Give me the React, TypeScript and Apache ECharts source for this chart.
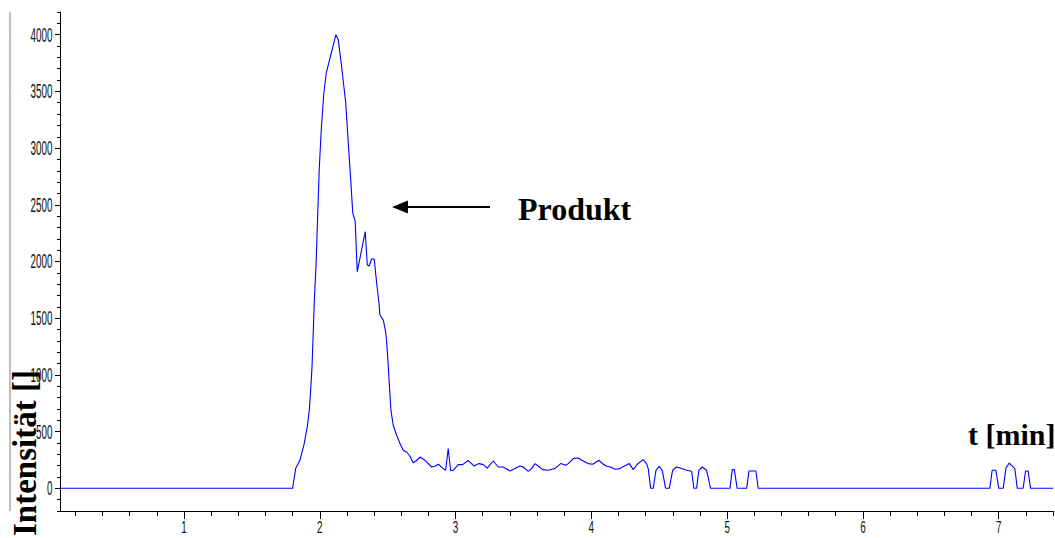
import React, { useEffect, useRef } from "react";
import * as echarts from "echarts";

// Retention time [min]
const timeMin = [
  0, 1.8, 1.823, 1.854, 1.886, 1.908, 1.923, 1.933, 1.943, 1.952,
  1.96, 1.972, 1.996, 2.011, 2.029, 2.048, 2.119, 2.136, 2.161, 2.191,
  2.21, 2.228, 2.243, 2.261, 2.276, 2.335, 2.35, 2.364, 2.382, 2.401,
  2.419, 2.436, 2.443, 2.468, 2.487, 2.497, 2.512, 2.524, 2.541, 2.566,
  2.591, 2.615, 2.642, 2.664, 2.688, 2.711, 2.738, 2.775, 2.824, 2.848,
  2.873, 2.909, 2.927, 2.946, 2.964, 2.983, 3.02, 3.052, 3.093, 3.135,
  3.174, 3.204, 3.233, 3.278, 3.314, 3.351, 3.401, 3.437, 3.474, 3.499,
  3.535, 3.56, 3.585, 3.609, 3.641, 3.683, 3.732, 3.774, 3.813, 3.83,
  3.867, 3.904, 3.94, 3.977, 4.01, 4.056, 4.088, 4.113, 4.142, 4.174,
  4.211, 4.24, 4.279, 4.309, 4.338, 4.382, 4.407, 4.419, 4.437, 4.456,
  4.476, 4.5, 4.522, 4.547, 4.574, 4.599, 4.628, 4.665, 4.702, 4.739,
  4.755, 4.775, 4.792, 4.817, 4.849, 4.878, 5.021, 5.038, 5.053, 5.074,
  5.144, 5.161, 5.212, 5.229, 6.935, 6.952, 6.979, 7.001, 7.033, 7.053,
  7.077, 7.119, 7.137, 7.18, 7.198, 7.217, 7.235, 7.4,
];

// Intensity
const intensity = [
  0, 0, 177, 247, 397, 541, 689, 865, 1071, 1369,
  1660, 1951, 2808, 3161, 3470, 3664, 4000, 3956, 3720, 3400,
  3046, 2720, 2428, 2351, 1910, 2263, 1969, 1960, 2022, 2022,
  1810, 1634, 1528, 1483, 1369, 1219, 927, 689, 556, 468,
  395, 336, 318, 283, 225, 243, 276, 247, 188, 194,
  212, 174, 159, 351, 155, 159, 209, 209, 245, 197,
  218, 209, 179, 241, 188, 188, 153, 174, 197, 188,
  150, 174, 218, 197, 165, 159, 174, 218, 203, 218,
  262, 268, 241, 218, 212, 247, 212, 194, 188, 168,
  174, 194, 218, 165, 212, 253, 218, 174, 0, 0,
  159, 194, 159, 0, 0, 159, 188, 174, 159, 150,
  0, 0, 159, 188, 159, 0, 0, 165, 165, 0,
  0, 153, 153, 0, 0, 159, 159, 0, 0, 174,
  223, 174, 0, 0, 153, 153, 0, 0,
];

// Tick labels / tick positions
const xMajorTicks = [1, 2, 3, 4, 5, 6, 7];
const xMinorTicks = [
  0.2, 0.4, 0.6, 0.8, 1.0, 1.2, 1.4, 1.6, 1.8, 2.0, 2.2, 2.4, 2.6, 2.8, 3.0,
  3.2, 3.4, 3.6, 3.8, 4.0, 4.2, 4.4, 4.6, 4.8, 5.0, 5.2, 5.4, 5.6, 5.8, 6.0,
  6.2, 6.4, 6.6, 6.8, 7.0, 7.2, 7.4,
];
const yMajorTicks = [0, 500, 1000, 1500, 2000, 2500, 3000, 3500, 4000];
const yMinorTicks = [
  -200, -100, 0, 100, 200, 300, 400, 500, 600, 700, 800, 900, 1000, 1100,
  1200, 1300, 1400, 1500, 1600, 1700, 1800, 1900, 2000, 2100, 2200, 2300,
  2400, 2500, 2600, 2700, 2800, 2900, 3000, 3100, 3200, 3300, 3400, 3500,
  3600, 3700, 3800, 3900, 4000, 4100, 4200,
];

const yTitle = "Intensität []";
const xTitle = "t [min]";
const peakLabel = "Produkt";

const X_MIN = 0.087;
const X_MAX = 7.4;
const Y_MIN = -200;
const Y_MAX = 4200;

const labelFont = "'Liberation Sans', Arial, sans-serif";
const serif = "'Liberation Serif', 'Times New Roman', serif";

export default function App() {
  const ref = useRef<HTMLDivElement>(null);

  useEffect(() => {
    if (!ref.current) return;
    const chart = echarts.init(ref.current, null, { renderer: "svg" });
    const data = timeMin.map((t, i) => [t, intensity[i]]);

    const axisLine = { show: true, onZero: false, lineStyle: { color: "#000", width: 1 } };

    chart.setOption({
      animation: false,
      backgroundColor: "#fff",
      grid: { left: 60, right: 2, top: 12, bottom: 27, containLabel: false },
      xAxis: [
        {
          type: "value",
          position: "bottom",
          min: X_MIN,
          max: X_MAX,
          axisLine,
          splitLine: { show: false },
          axisTick: {
            show: true,
            length: 8,
            customValues: xMajorTicks,
            lineStyle: { color: "#000", width: 1 },
          },
          axisLabel: { show: false },
        },
        {
          type: "value",
          position: "bottom",
          min: X_MIN,
          max: X_MAX,
          axisLine: { show: false, onZero: false },
          splitLine: { show: false },
          axisTick: {
            show: true,
            length: 5,
            customValues: xMinorTicks,
            lineStyle: { color: "#000", width: 1 },
          },
          axisLabel: { show: false },
        },
      ],
      yAxis: [
        {
          type: "value",
          position: "left",
          min: Y_MIN,
          max: Y_MAX,
          axisLine,
          splitLine: { show: false },
          axisTick: {
            show: true,
            length: 5,
            customValues: yMajorTicks,
            lineStyle: { color: "#000", width: 1 },
          },
          axisLabel: { show: false },
        },
        {
          type: "value",
          position: "left",
          min: Y_MIN,
          max: Y_MAX,
          axisLine: { show: false, onZero: false },
          splitLine: { show: false },
          axisTick: {
            show: true,
            length: 3,
            customValues: yMinorTicks,
            lineStyle: { color: "#000", width: 1 },
          },
          axisLabel: { show: false },
        },
      ],
      series: [
        {
          type: "line",
          xAxisIndex: 0,
          yAxisIndex: 0,
          data,
          showSymbol: false,
          symbol: "none",
          smooth: false,
          clip: true,
          lineStyle: { color: "#0000ff", width: 1.1 },
        },
      ],
    });

    // Condensed, vertically stretched tick labels positioned via the axes' own scales
    const yLabels = yMajorTicks.map((v) => ({
      type: "text",
      x: 52.5,
      y: chart.convertToPixel({ yAxisIndex: 0 }, v) as number,
      scaleX: 0.82,
      scaleY: 1.65,
      style: {
        text: String(v),
        font: `12px ${labelFont}`,
        fill: "#111",
        textAlign: "right",
        textVerticalAlign: "middle",
      },
    }));
    const xLabels = xMajorTicks.map((v) => ({
      type: "text",
      x: chart.convertToPixel({ xAxisIndex: 0 }, v) as number,
      y: 528,
      scaleX: 0.82,
      scaleY: 1.3,
      style: {
        text: String(v),
        font: `12px ${labelFont}`,
        fill: "#111",
        textAlign: "center",
        textVerticalAlign: "middle",
      },
    }));

    chart.setOption({
      graphic: [
        {
          type: "line",
          shape: { x1: 10, y1: 12, x2: 10, y2: 511 },
          style: { stroke: "#808080", lineWidth: 1 },
        },
        ...yLabels,
        ...xLabels,
        {
          type: "text",
          x: 25,
          y: 536,
          rotation: Math.PI / 2,
          style: {
            text: yTitle,
            font: `bold 33px ${serif}`,
            fill: "#000",
            textAlign: "left",
            textVerticalAlign: "middle",
          },
        },
        {
          type: "text",
          x: 518,
          y: 209,
          style: {
            text: peakLabel,
            font: `bold 32px ${serif}`,
            fill: "#000",
            textAlign: "left",
            textVerticalAlign: "middle",
          },
        },
        {
          type: "text",
          x: 968,
          y: 434,
          style: {
            text: xTitle,
            font: `bold 30px ${serif}`,
            fill: "#000",
            textAlign: "left",
            textVerticalAlign: "middle",
          },
        },
        {
          type: "line",
          shape: { x1: 405, y1: 207, x2: 490, y2: 207 },
          style: { stroke: "#000", lineWidth: 2 },
        },
        {
          type: "polygon",
          shape: { points: [[392, 207], [408, 200.5], [408, 213.5]] },
          style: { fill: "#000" },
        },
      ],
    });

    return () => chart.dispose();
  }, []);

  return (
    <div
      ref={ref}
      style={{ position: "fixed", left: 0, top: 0, width: 1055, height: 538 }}
    />
  );
}
